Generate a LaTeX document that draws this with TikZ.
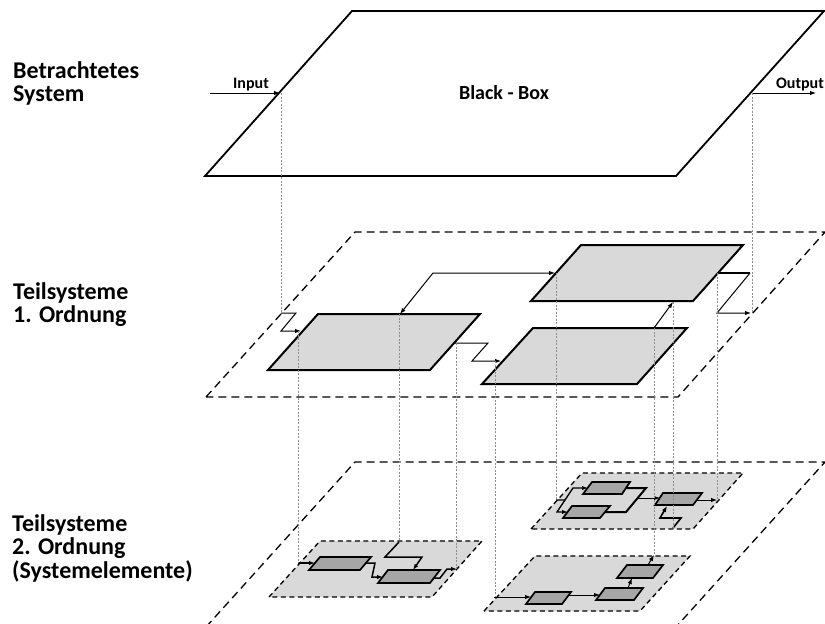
\documentclass[tikz,border=0pt]{standalone}
\usepackage{fontspec}
\setmainfont{Carlito}
\usetikzlibrary{arrows.meta}
\definecolor{subgray}{RGB}{217,217,217}
\definecolor{elemgray}{RGB}{166,166,166}

\begin{document}
\begin{tikzpicture}[
    x=1pt, y=-1pt,
    plane/.style={draw, line width=1.3pt, dash pattern=on 8pt off 5pt},
    blackbox/.style={draw, line width=1.8pt, fill=white},
    subsys/.style={draw, line width=2pt, fill=subgray},
    panel/.style={draw, line width=1.3pt, dash pattern=on 5pt off 3.5pt, fill=subgray},
    element/.style={draw, line width=1.7pt, fill=elemgray},
    arrow/.style={-{Latex[length=6pt,width=4.5pt]}, line width=1pt},
    biarrow/.style={{Latex[length=6pt,width=4.5pt]}-{Latex[length=6pt,width=4.5pt]}, line width=1pt},
    heavy/.style={line width=2pt},
    guide/.style={draw=black!45, line width=0.5pt, dash pattern=on 2pt off 1.5pt},
    levelname/.style={font=\bfseries\fontsize{24}{23.5}\selectfont, align=left, inner sep=0pt, anchor=north west},
    io/.style={font=\bfseries\fontsize{16}{18}\selectfont, inner sep=0pt, anchor=base}
]
\useasboundingbox (0,0) rectangle (825,624);
\clip (0,0) rectangle (825,624);

% level names
\node[levelname] (lvl0) at (13,61) {Betrachtetes\\System};
\node[levelname] (lvl1) at (13,282) {Teilsysteme\\1. Ordnung};
\node[levelname] (lvl2) at (12,514) {Teilsysteme\\2. Ordnung\\(Systemelemente)};

% black box
\draw[blackbox] (205,176) -- (352,11) -- (824,11) -- (676,176) -- cycle;
\node[font=\bfseries\fontsize{20}{24}\selectfont, inner sep=0pt, anchor=base] (bb) at (504,99) {Black - Box};
\draw[arrow] (210,93) -- (280,93);
\node[io] (in) at (251,88) {Input};
\draw[arrow] (752,93) -- (816,93);
\node[io] (out) at (800,88) {Output};

% first order
\draw[plane] (206,397) -- (355,232) -- (825,232) -- (678,397) -- cycle;
\draw[subsys] (268,370) -- (318,314) -- (480,314) -- (430,370) -- cycle;
\draw[subsys] (531,301) -- (581,245) -- (743,245) -- (693,301) -- cycle;
\draw[subsys] (482,384) -- (533,328) -- (687,328) -- (637,384) -- cycle;

\draw[arrow] (281,313) -- (296,313) -- (281,331) -- (301,331);
\draw[arrow] (454,343) -- (488,343) -- (472,361) -- (501,361);
\draw[biarrow] (400,314) -- (433,273) -- (555,273);
\draw[arrow] (654,328) -- (673,302);
\draw[heavy] (718,273) -- (750,273);
\draw[arrow] (750,273) -- (717,313) -- (751,313);

% second order
\draw[plane] (206,627) -- (355,462) -- (825,462) -- (676,627);
\draw[panel] (269,597) -- (320,541) -- (482,541) -- (432,597) -- cycle;
\draw[panel] (531,529) -- (582,473) -- (743,473) -- (693,529) -- cycle;
\draw[panel] (484,611) -- (535,556) -- (690,556) -- (640,611) -- cycle;

% elements, left panel
\draw[element] (309,570) -- (320,557) -- (371,557) -- (360,570) -- cycle;
\draw[element] (378,583) -- (388,570) -- (440,570) -- (430,583) -- cycle;
\draw[arrow, line width=1.3pt] (298,563) -- (315,563);
\draw[arrow, line width=1.5pt] (366,563) -- (375,563) -- (372,577) -- (383,577);
\draw[arrow, line width=1.5pt] (399,542) -- (385,557) -- (422,557) -- (413,570);
\draw[arrow, line width=1.5pt] (434,578) -- (440,578) -- (447,569) -- (457,569);

% elements, upper right panel
\draw[element] (583,494) -- (592,482) -- (630,482) -- (622,494) -- cycle;
\draw[element] (563,518) -- (572,506) -- (610,506) -- (600,518) -- cycle;
\draw[element] (655,505) -- (663,493) -- (702,493) -- (693,505) -- cycle;
\draw[arrow, line width=1.3pt] (556,500) -- (565,500) -- (573,488) -- (588,488);
\draw[arrow, line width=1.3pt] (565,500) -- (557,512) -- (568,512);
\draw[heavy] (626,488) -- (646,488) -- (626,512) -- (605,512);
\draw[arrow] (638,498) -- (660,498);
\draw[arrow] (697,500) -- (717,500);
\draw[arrow, line width=1.6pt] (673,528) -- (681,518) -- (660,518) -- (667,506);

% elements, lower right panel
\draw[element] (526,604) -- (535,592) -- (571,592) -- (562,604) -- cycle;
\draw[element] (596,600) -- (605,588) -- (643,588) -- (634,600) -- cycle;
\draw[element] (617,578) -- (627,565) -- (663,565) -- (653,578) -- cycle;
\draw[arrow] (494,597) -- (531,597);
\draw[arrow] (568,595) -- (600,595);
\draw[arrow] (628,588) -- (632,578);
\draw[arrow] (648,565) -- (654,555);

% projection lines
\draw[guide] (281,93) -- (281,313);
\draw[guide] (752,93) -- (752,313);
\draw[guide] (298,331) -- (298,563);
\draw[guide] (399,314) -- (399,542);
\draw[guide] (456,343) -- (456,569);
\draw[guide] (495,361) -- (495,597);
\draw[guide] (556,273) -- (556,500);
\draw[guide] (654,328) -- (654,555);
\draw[guide] (673,302) -- (673,528);
\draw[guide] (717,273) -- (717,500);
\end{tikzpicture}
\end{document}
